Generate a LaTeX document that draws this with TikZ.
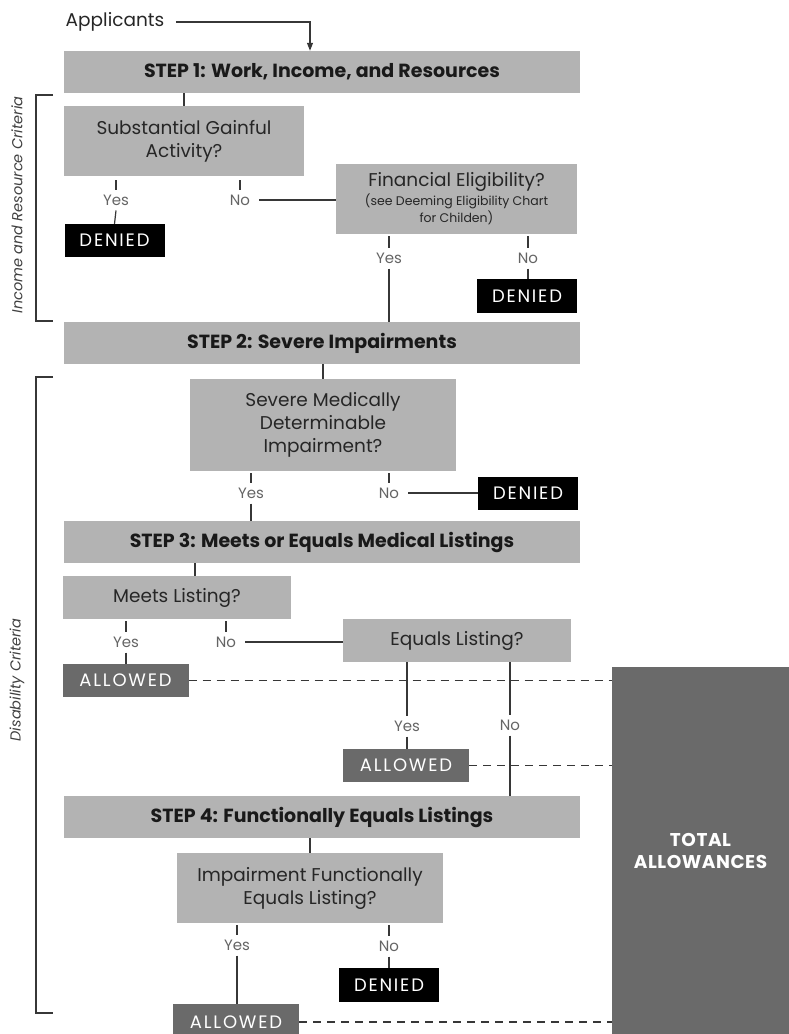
\documentclass[tikz,border=0pt]{standalone}
\usepackage{fontspec}
\setmainfont{Poppins}
\newfontfamily\wideface[LetterSpace=10]{Poppins}
\newfontfamily\totalface[LetterSpace=3]{Poppins}
\usetikzlibrary{arrows.meta}
\definecolor{boxgray}{RGB}{179,179,179}
\definecolor{okgray}{RGB}{106,106,106}
\definecolor{linegray}{RGB}{55,55,55}
\definecolor{labelgray}{RGB}{100,100,100}
\begin{document}
\begin{tikzpicture}[x=1pt,y=-1pt,
  stepbox/.style={fill=boxgray,inner sep=0pt,minimum width=516pt,minimum height=42pt,
    text=black!90,font=\fontsize{19}{22}\selectfont\bfseries},
  qbox/.style={fill=boxgray,inner sep=0pt,align=center,text=black!85,
    font=\fontsize{18.5}{23}\selectfont},
  deniedbox/.style={fill=black,text=white,inner sep=0pt,minimum width=100pt,
    font=\fontsize{18}{20}\wideface\selectfont},
  allowedbox/.style={fill=okgray,text=white,inner sep=0pt,minimum width=126pt,
    font=\fontsize{18}{20}\wideface\selectfont},
  answer/.style={text=labelgray,inner sep=5pt,font=\fontsize{15}{17}\selectfont},
  side/.style={rotate=90,text=black!75,font=\fontsize{14.5}{17}\selectfont\itshape},
  link/.style={draw=linegray,line width=1.2pt},
  tolink/.style={link,dash pattern=on 8pt off 6pt}]
  \useasboundingbox (0,0) rectangle (789,1034);
  \node[stepbox] (step1) at (322,72) {STEP 1: Work, Income, and Resources};
  \node[stepbox] (step2) at (322,343) {STEP 2: Severe Impairments};
  \node[stepbox] (step3) at (322,542) {STEP 3: Meets or Equals Medical Listings};
  \node[stepbox] (step4) at (322,817) {STEP 4: Functionally Equals Listings};
  \node[text=black!85,font=\fontsize{18.5}{20}\selectfont] (app) at (115,22) {Applicants};
  \node[qbox,minimum width=240pt,minimum height=70pt] (sga) at (184,141)
    {Substantial Gainful\\Activity?};
  \node[qbox,minimum width=241pt,minimum height=70pt] (fin) at (456.5,199)
    {Financial Eligibility?\\[-4pt]{\fontsize{12.5}{17}\selectfont(see Deeming Eligibility Chart}\\[-6pt]
    {\fontsize{12.5}{17}\selectfont for Childen)}};
  \node[qbox,minimum width=266pt,minimum height=92pt] (smdi) at (323,425)
    {Severe Medically\\Determinable\\Impairment?};
  \node[qbox,minimum width=228pt,minimum height=43pt] (meets) at (177,597.5) {Meets Listing?};
  \node[qbox,minimum width=228pt,minimum height=43pt] (equals) at (457,640.5) {Equals Listing?};
  \node[qbox,minimum width=266pt,minimum height=70pt] (imp) at (310,888)
    {Impairment Functionally\\Equals Listing?};
  \node[deniedbox,minimum height=33pt] (den1) at (114.5,240.5) {DENIED};
  \node[deniedbox,minimum height=34pt] (den2) at (527,296) {DENIED};
  \node[deniedbox,minimum height=33pt] (den3) at (528,493.5) {DENIED};
  \node[deniedbox,minimum height=34pt] (den4) at (389,985) {DENIED};
  \node[allowedbox,minimum height=33pt] (ok1) at (125.5,680.5) {ALLOWED};
  \node[allowedbox,minimum height=33pt] (ok2) at (406,765.5) {ALLOWED};
  \node[allowedbox,minimum height=36pt] (ok3) at (236,1022) {ALLOWED};
  \node[fill=okgray,text=white,inner sep=0pt,minimum width=177pt,minimum height=367pt,
    align=center,font=\fontsize{18.5}{22}\totalface\selectfont\bfseries] (total) at (700.5,850.5)
    {TOTAL\\ALLOWANCES};
  \node[answer] (y1) at (116,200) {Yes};
  \node[answer] (n1) at (240,200) {No};
  \node[answer] (y2) at (389,258) {Yes};
  \node[answer] (n2) at (528,258) {No};
  \node[answer] (y3) at (251,493) {Yes};
  \node[answer] (n3) at (389,493) {No};
  \node[answer] (y4) at (126,642) {Yes};
  \node[answer] (n4) at (226,642) {No};
  \node[answer] (y5) at (407,726) {Yes};
  \node[answer] (n5) at (510,725) {No};
  \node[answer] (y6) at (237,945) {Yes};
  \node[answer] (n6) at (389,946) {No};
  \node[side] (income) at (17,205) {Income and Resource Criteria};
  \node[side] (disab) at (17,680) {Disability Criteria};
  \coordinate (meetsin) at ([xshift=18pt]meets.north);
  \draw[link] (53,95) -- (36,95) -- (36,321) -- (53,321);
  \draw[link] (53,377) -- (36,377) -- (36,1013) -- (53,1013);
  \draw[link,shorten <=8pt,-{Triangle[width=6pt,length=8pt]}] (app.east)
    -| ([xshift=-12pt]step1.north);
  \draw[link] (step1.south -| sga.north) -- (sga.north);
  \draw[link,shorten <=4pt] (sga.south -| y1) -- (y1.north);
  \draw[link] (y1.south) -- (den1.north);
  \draw[link,shorten <=4pt] (sga.south -| n1) -- (n1.north);
  \draw[link,shorten <=4pt] (n1.east) -- (n1 -| fin.west);
  \draw[link,shorten <=2pt] (fin.south -| y2) -- (y2.north);
  \draw[link] (y2.south) -- (y2 |- step2.north);
  \draw[link,shorten <=2pt] (fin.south -| n2) -- (n2.north);
  \draw[link] (n2.south) -- (n2 |- den2.north);
  \draw[link] (step2.south -| smdi.north) -- (smdi.north);
  \draw[link,shorten <=2pt] (smdi.south -| y3) -- (y3.north);
  \draw[link] (y3.south) -- (y3 |- step3.north);
  \draw[link,shorten <=2pt] (smdi.south -| n3) -- (n3.north);
  \draw[link,shorten <=4pt] (n3.east) -- (n3 -| den3.west);
  \draw[link] (step3.south -| meetsin) -- (meetsin);
  \draw[link,shorten <=2pt] (meets.south -| y4) -- (y4.north);
  \draw[link] (y4.south) -- (y4 |- ok1.north);
  \draw[link,shorten <=2pt] (meets.south -| n4) -- (n4.north);
  \draw[link,shorten <=4pt] (n4.east) -- (n4 -| equals.west);
  \draw[link] (equals.south -| y5) -- (y5.north);
  \draw[link] (y5.south) -- (y5 |- ok2.north);
  \draw[link] (equals.south -| n5) -- (n5.north);
  \draw[link] (n5.south) -- (n5 |- step4.north);
  \draw[link] (step4.south -| imp.north) -- (imp.north);
  \draw[link,shorten <=2pt] (imp.south -| y6) -- (y6.north);
  \draw[link] (y6.south) -- (y6 |- ok3.north);
  \draw[link,shorten <=2pt] (imp.south -| n6) -- (n6.north);
  \draw[link] (n6.south) -- (n6 |- den4.north);
  \draw[tolink] (ok1.east) -- (ok1 -| total.west);
  \draw[tolink] (ok2.east) -- (ok2 -| total.west);
  \draw[tolink] (ok3.east) -- (ok3 -| total.west);
\end{tikzpicture}
\end{document}
